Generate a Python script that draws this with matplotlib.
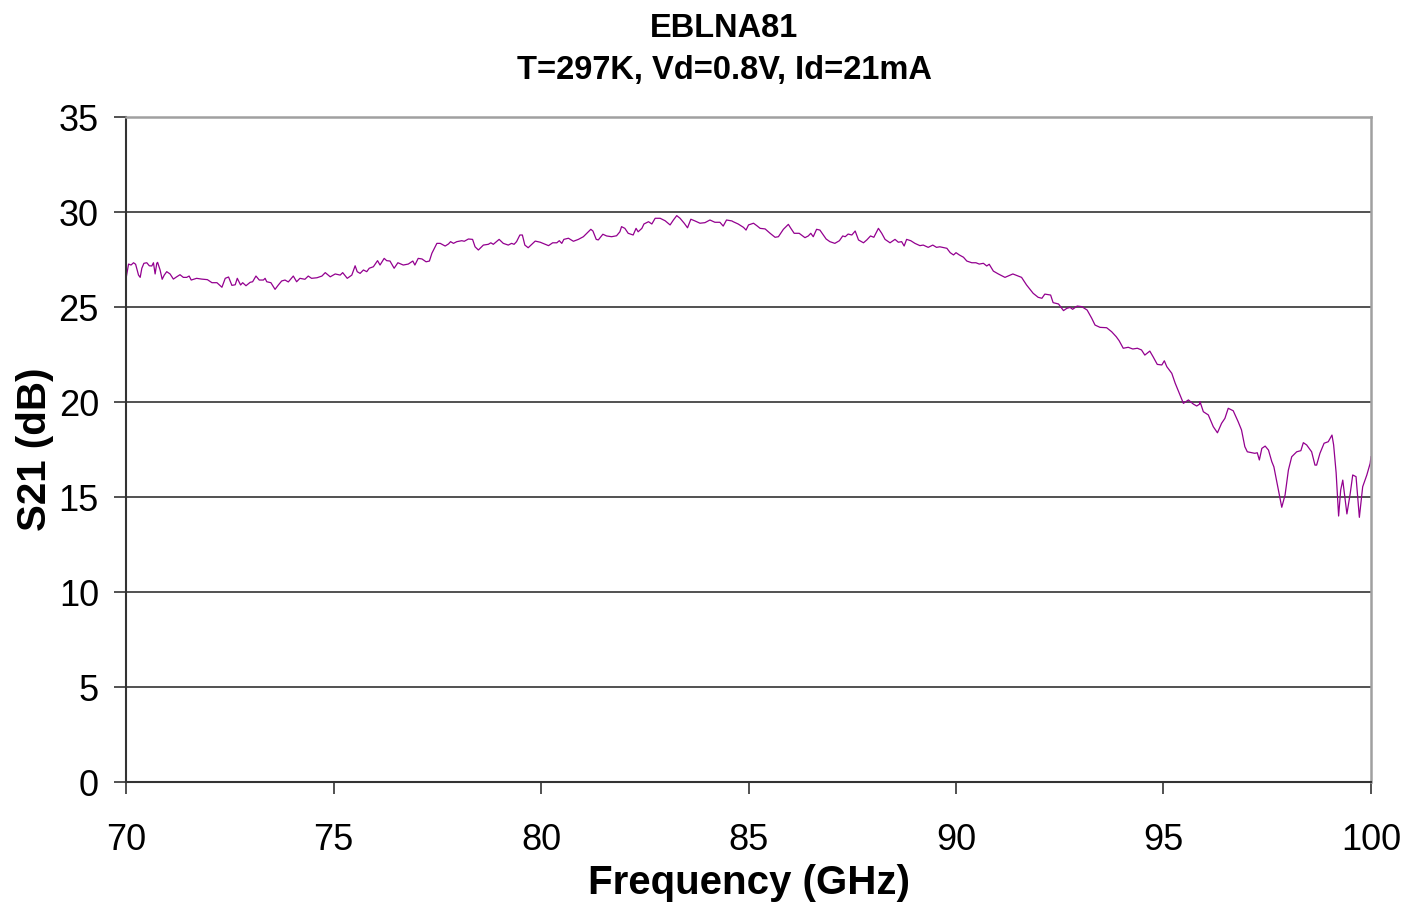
import matplotlib.pyplot as plt

# measured gain sweep, EBLNA81 at room temperature
freq_ghz = [
    70.00, 70.06, 70.12, 70.18, 70.23, 70.30, 70.34, 70.38, 70.43, 70.50,
    70.56, 70.62, 70.66, 70.70, 70.74, 70.76, 70.82, 70.87, 70.92, 70.98,
    71.06, 71.14, 71.22, 71.30, 71.38, 71.46, 71.52, 71.57, 71.70, 71.82,
    71.96, 72.07, 72.19, 72.31, 72.39, 72.47, 72.55, 72.63, 72.68, 72.76,
    72.81, 72.89, 72.99, 73.05, 73.13, 73.21, 73.31, 73.35, 73.39, 73.49,
    73.59, 73.67, 73.75, 73.83, 73.91, 74.03, 74.11, 74.19, 74.31, 74.39,
    74.47, 74.60, 74.72, 74.80, 74.92, 75.04, 75.16, 75.22, 75.33, 75.44,
    75.52, 75.57, 75.64, 75.72, 75.80, 75.86, 75.96, 76.06, 76.12, 76.22,
    76.28, 76.36, 76.46, 76.55, 76.68, 76.80, 76.91, 76.96, 77.04, 77.13,
    77.23, 77.31, 77.37, 77.49, 77.57, 77.69, 77.77, 77.82, 77.89, 77.97,
    78.09, 78.15, 78.25, 78.35, 78.41, 78.49, 78.61, 78.73, 78.79, 78.85,
    78.99, 79.09, 79.21, 79.29, 79.35, 79.41, 79.49, 79.55, 79.61, 79.69,
    79.86, 79.98, 80.10, 80.18, 80.28, 80.38, 80.44, 80.50, 80.55, 80.66,
    80.78, 80.90, 81.02, 81.08, 81.14, 81.20, 81.25, 81.33, 81.38, 81.49,
    81.58, 81.70, 81.82, 81.90, 81.94, 82.02, 82.10, 82.22, 82.29, 82.34,
    82.43, 82.48, 82.59, 82.67, 82.75, 82.87, 82.99, 83.11, 83.19, 83.27,
    83.35, 83.45, 83.53, 83.61, 83.71, 83.83, 83.95, 84.07, 84.19, 84.31,
    84.39, 84.47, 84.60, 84.63, 84.75, 84.88, 84.94, 85.00, 85.12, 85.20,
    85.28, 85.40, 85.52, 85.64, 85.72, 85.84, 85.96, 86.02, 86.10, 86.22,
    86.36, 86.44, 86.50, 86.56, 86.64, 86.72, 86.87, 86.96, 87.08, 87.19,
    87.27, 87.33, 87.40, 87.49, 87.57, 87.65, 87.77, 87.85, 87.94, 88.02,
    88.13, 88.21, 88.29, 88.41, 88.53, 88.61, 88.69, 88.75, 88.81, 88.91,
    89.01, 89.13, 89.21, 89.33, 89.44, 89.53, 89.61, 89.71, 89.78, 89.86,
    89.94, 90.00, 90.08, 90.18, 90.26, 90.38, 90.48, 90.56, 90.66, 90.74,
    90.80, 90.90, 91.02, 91.18, 91.37, 91.50, 91.58, 91.70, 91.86, 91.98,
    92.07, 92.14, 92.28, 92.34, 92.47, 92.59, 92.67, 92.75, 92.81, 92.92,
    93.03, 93.16, 93.27, 93.35, 93.47, 93.63, 93.75, 93.86, 93.93, 94.03,
    94.15, 94.26, 94.37, 94.47, 94.55, 94.67, 94.75, 94.85, 94.96, 95.02,
    95.08, 95.20, 95.28, 95.38, 95.48, 95.60, 95.72, 95.80, 95.87, 95.88,
    95.96, 96.08, 96.20, 96.30, 96.40, 96.48, 96.56, 96.68, 96.80, 96.88,
    96.96, 97.02, 97.13, 97.20, 97.26, 97.31, 97.37, 97.45, 97.53, 97.61,
    97.66, 97.77, 97.85, 97.93, 98.01, 98.09, 98.21, 98.31, 98.37, 98.45,
    98.57, 98.65, 98.69, 98.77, 98.87, 98.97, 99.06, 99.10, 99.16, 99.22,
    99.27, 99.32, 99.37, 99.42, 99.50, 99.56, 99.64, 99.72, 99.80, 99.90,
    99.98, 100.00,
]
s21_db = [
    26.51, 27.26, 27.21, 27.33, 27.25, 26.68, 26.56, 27.04, 27.30, 27.33,
    27.17, 27.16, 27.33, 26.74, 27.30, 27.35, 26.95, 26.46, 26.68, 26.86,
    26.74, 26.47, 26.59, 26.70, 26.56, 26.56, 26.63, 26.42, 26.51, 26.47,
    26.44, 26.28, 26.28, 26.04, 26.51, 26.58, 26.14, 26.17, 26.51, 26.16,
    26.28, 26.12, 26.30, 26.33, 26.63, 26.42, 26.42, 26.51, 26.33, 26.28,
    25.93, 26.16, 26.37, 26.42, 26.32, 26.63, 26.33, 26.51, 26.46, 26.63,
    26.51, 26.54, 26.63, 26.81, 26.59, 26.74, 26.68, 26.81, 26.51, 26.68,
    27.17, 26.86, 26.77, 26.95, 26.86, 27.04, 27.12, 27.44, 27.21, 27.56,
    27.44, 27.42, 27.04, 27.33, 27.21, 27.26, 27.42, 27.21, 27.56, 27.53,
    27.38, 27.42, 27.83, 28.35, 28.35, 28.21, 28.32, 28.44, 28.35, 28.44,
    28.49, 28.46, 28.58, 28.56, 28.17, 28.00, 28.26, 28.30, 28.38, 28.30,
    28.56, 28.35, 28.26, 28.35, 28.30, 28.44, 28.79, 28.79, 28.26, 28.12,
    28.47, 28.41, 28.30, 28.23, 28.38, 28.38, 28.49, 28.35, 28.56, 28.62,
    28.46, 28.56, 28.70, 28.83, 28.96, 29.09, 29.00, 28.56, 28.53, 28.83,
    28.74, 28.70, 28.75, 28.96, 29.23, 29.14, 28.88, 28.79, 29.14, 28.96,
    29.14, 29.37, 29.49, 29.37, 29.67, 29.67, 29.54, 29.32, 29.58, 29.81,
    29.67, 29.41, 29.17, 29.62, 29.53, 29.41, 29.44, 29.58, 29.46, 29.46,
    29.26, 29.58, 29.53, 29.49, 29.37, 29.19, 29.05, 29.32, 29.41, 29.28,
    29.14, 29.11, 28.88, 28.67, 28.70, 29.09, 29.35, 29.14, 28.88, 28.88,
    28.65, 28.74, 28.88, 28.70, 29.09, 29.05, 28.58, 28.44, 28.35, 28.49,
    28.74, 28.70, 28.84, 28.79, 29.00, 28.53, 28.38, 28.53, 28.74, 28.67,
    29.14, 28.88, 28.56, 28.38, 28.56, 28.41, 28.44, 28.21, 28.56, 28.49,
    28.35, 28.23, 28.26, 28.14, 28.26, 28.14, 28.17, 28.12, 28.09, 27.86,
    27.74, 27.86, 27.74, 27.62, 27.42, 27.33, 27.33, 27.26, 27.30, 27.16,
    27.25, 26.89, 26.74, 26.56, 26.74, 26.63, 26.56, 26.16, 25.72, 25.51,
    25.46, 25.68, 25.63, 25.23, 25.16, 24.81, 24.93, 24.98, 24.88, 25.05,
    25.02, 24.84, 24.41, 24.05, 23.93, 23.91, 23.70, 23.44, 23.23, 22.83,
    22.88, 22.79, 22.83, 22.74, 22.47, 22.68, 22.38, 21.98, 21.95, 22.17,
    21.86, 21.51, 21.00, 20.46, 19.93, 20.11, 19.89, 19.79, 19.89, 20.02,
    19.49, 19.32, 18.70, 18.38, 18.88, 19.14, 19.67, 19.54, 18.96, 18.53,
    17.65, 17.38, 17.33, 17.30, 17.33, 16.95, 17.56, 17.68, 17.47, 16.86,
    16.59, 15.37, 14.46, 15.11, 16.42, 17.12, 17.38, 17.44, 17.86, 17.74,
    17.38, 16.68, 16.68, 17.30, 17.83, 17.91, 18.26, 17.74, 16.28, 14.00,
    15.37, 15.89, 15.02, 14.11, 15.19, 16.16, 16.07, 13.93, 15.54, 16.16,
    16.77, 17.12,
]

x_ticks = [70, 75, 80, 85, 90, 95, 100]
y_ticks = [0, 5, 10, 15, 20, 25, 30, 35]

plt.rcParams['font.family'] = ['Liberation Sans', 'DejaVu Sans']

fig = plt.figure(figsize=(14.07, 9.05), dpi=100)
ax = fig.add_axes([0.0896, 0.1359, 0.8848, 0.7348])

ax.plot(freq_ghz, s21_db, color='#93008f', lw=0.9)

ax.set_xlim(70, 100)
ax.set_ylim(0, 35)
ax.set_xticks(x_ticks)
ax.set_yticks(y_ticks)
ax.yaxis.grid(True, color='#222222', lw=1.1)
ax.set_axisbelow(True)

ax.tick_params(axis='both', direction='out', length=8.5, width=1.2,
               color='#333333', labelsize=26)
ax.tick_params(axis='x', pad=21)
ax.tick_params(axis='y', pad=11)

for side in ['left', 'bottom']:
    ax.spines[side].set_color('#333333')
    ax.spines[side].set_linewidth(1.5)
for side in ['top', 'right']:
    ax.spines[side].set_color('#a0a0a0')
    ax.spines[side].set_linewidth(1.8)

ax.set_xlabel('Frequency (GHz)', fontsize=29, fontweight='bold', labelpad=4)
ax.set_ylabel('S21 (dB)', fontsize=29, fontweight='bold', labelpad=3)

fig.text(0.5146, 0.969, 'EBLNA81', ha='center', va='center',
         fontsize=23.5, fontweight='bold')
fig.text(0.5146, 0.922, 'T=297K, Vd=0.8V, Id=21mA', ha='center', va='center',
         fontsize=23.5, fontweight='bold')

fig.savefig('out.png', dpi=100)
